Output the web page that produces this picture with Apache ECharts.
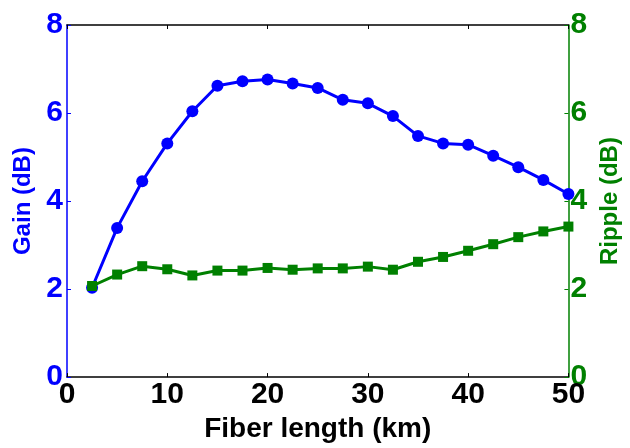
<!DOCTYPE html>
<html>
<head>
<meta charset="utf-8">
<script src="https://cdn.jsdelivr.net/npm/echarts@6/dist/echarts.min.js"></script>
<style>
  html, body { margin: 0; padding: 0; background: #fff; overflow: hidden; }
  #chart { width: 630px; height: 448px; }
</style>
</head>
<body>
<div id="chart"></div>
<script>
// Fiber length (km) at each measurement
var fiberLength = [2.5, 5, 7.5, 10, 12.5, 15, 17.5, 20, 22.5, 25,
                   27.5, 30, 32.5, 35, 37.5, 40, 42.5, 45, 47.5, 50];
// Gain (dB), left axis
var gainDb = [2.03, 3.39, 4.45, 5.31, 6.04, 6.62, 6.72, 6.76, 6.67, 6.57,
              6.30, 6.22, 5.93, 5.48, 5.31, 5.28, 5.03, 4.77, 4.48, 4.16];
// Ripple (dB), right axis
var rippleDb = [2.07, 2.33, 2.52, 2.45, 2.31, 2.42, 2.42, 2.48, 2.44, 2.47,
                2.47, 2.51, 2.44, 2.62, 2.73, 2.87, 3.02, 3.18, 3.31, 3.42];

var BLUE = '#0000ff';
var GREEN = '#008000';
var FONT = '"Liberation Sans", Arial, sans-serif';

function pairs(xs, ys) {
  return xs.map(function (x, i) { return [x, ys[i]]; });
}

var chart = echarts.init(document.getElementById('chart'), null, { renderer: 'canvas' });

chart.setOption({
  animation: false,
  backgroundColor: '#fff',
  grid: { left: 67, right: 49, top: 25, bottom: 62, containLabel: false },
  xAxis: [{
    type: 'value', position: 'bottom', min: 0, max: 50, interval: 10,
    name: 'Fiber length (km)', nameLocation: 'middle', nameGap: 33,
    nameTextStyle: { color: '#000', fontFamily: FONT, fontWeight: 'bold', fontSize: 28 },
    axisLine: { onZero: false, lineStyle: { color: '#000', width: 1.5 } },
    axisTick: { inside: true, length: 4, lineStyle: { color: '#000' } },
    axisLabel: { color: '#000', fontFamily: FONT, fontWeight: 'bold', fontSize: 30, margin: 3 },
    splitLine: { show: false }
  }, {
    type: 'value', position: 'top', min: 0, max: 50, interval: 10,
    axisLine: { onZero: false, lineStyle: { color: '#000', width: 1.5 } },
    axisTick: { inside: true, length: 4, lineStyle: { color: '#000' } },
    axisLabel: { show: false },
    splitLine: { show: false }
  }],
  yAxis: [{
    type: 'value', position: 'left', min: 0, max: 8, interval: 2,
    name: 'Gain (dB)', nameLocation: 'middle', nameGap: 27,
    nameTextStyle: { color: BLUE, fontFamily: FONT, fontWeight: 'bold', fontSize: 24 },
    axisLine: { show: true, onZero: false, lineStyle: { color: BLUE, width: 1.5 } },
    axisTick: { show: true, inside: true, length: 4, lineStyle: { color: BLUE } },
    axisLabel: { color: BLUE, fontFamily: FONT, fontWeight: 'bold', fontSize: 30, margin: 4 },
    splitLine: { show: false }
  }, {
    type: 'value', position: 'right', min: 0, max: 8, interval: 2,
    name: 'Ripple (dB)', nameLocation: 'middle', nameGap: 25,
    nameTextStyle: { color: GREEN, fontFamily: FONT, fontWeight: 'bold', fontSize: 24 },
    axisLine: { show: true, onZero: false, lineStyle: { color: GREEN, width: 1.5 } },
    axisTick: { show: true, inside: true, length: 4, lineStyle: { color: GREEN } },
    axisLabel: { color: GREEN, fontFamily: FONT, fontWeight: 'bold', fontSize: 30, margin: 2 },
    splitLine: { show: false }
  }],
  series: [{
    name: 'Gain', type: 'line', xAxisIndex: 0, yAxisIndex: 0,
    data: pairs(fiberLength, gainDb),
    symbol: 'circle', symbolSize: 12,
    lineStyle: { color: BLUE, width: 3 },
    itemStyle: { color: BLUE },
    z: 3
  }, {
    name: 'Ripple', type: 'line', xAxisIndex: 0, yAxisIndex: 1,
    data: pairs(fiberLength, rippleDb),
    symbol: 'rect', symbolSize: 10,
    lineStyle: { color: GREEN, width: 3 },
    itemStyle: { color: GREEN },
    z: 4
  }]
});
</script>
</body>
</html>
